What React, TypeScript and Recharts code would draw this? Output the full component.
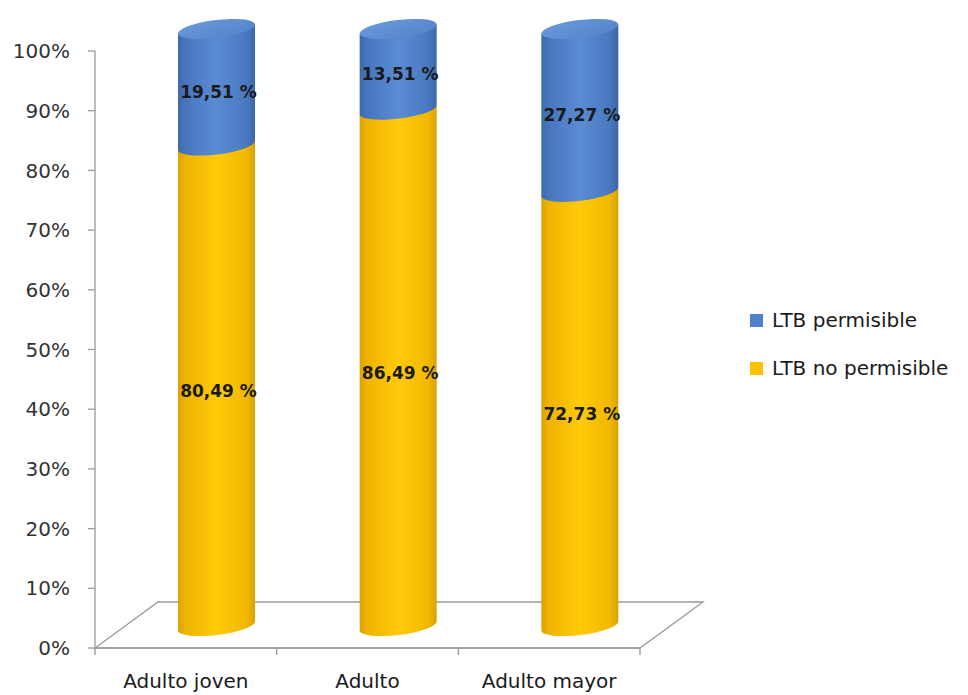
import React from 'react';
import { BarChart, Bar, XAxis, YAxis, LabelList } from 'recharts';

const categories = ['Adulto joven', 'Adulto', 'Adulto mayor'];
const noPermisible = [80.49, 86.49, 72.73];
const permisible = [19.51, 13.51, 27.27];
const yTicks = [0, 10, 20, 30, 40, 50, 60, 70, 80, 90, 100];
const seriesNames = ['LTB permisible', 'LTB no permisible'];
const seriesColors = ['#4F81CF', '#FFC000'];

const data = categories.map((c, i) => ({
  name: c,
  noPermisible: noPermisible[i],
  permisible: permisible[i],
}));

// layout
const W = 968;
const H = 695;
const PLOT_LEFT = 95;
const PLOT_RIGHT = 640;
const PLOT_TOP = 51;
const PLOT_BOTTOM = 648;
const DEPTH_DX = 63;
const DEPTH_DY = -46;
const CYL_DX = 31;
const CYL_DY = -22;
const TILT = 7;
const RY = 9;
const FONT = '"DejaVu Sans", "Open Sans", sans-serif';

const fmt = (v: number) => v.toFixed(2).replace('.', ',') + ' %';

const Cylinder = (props: any) => {
  const { x, y, width, height, index, kind } = props;
  if (height == null || width == null) return null;
  const w = width;
  const x0 = x + CYL_DX;
  const yT = y + CYL_DY;
  const yB = y + height + CYL_DY;
  const t = (TILT * Math.PI) / 180;
  const h = (w / 2) * Math.tan(t);
  const rx = w / 2 / Math.cos(t);
  const gid = `g-${kind}-${index}`;
  const cid = `c-${kind}-${index}`;
  const body = `M${x0},${yT + h} L${x0},${yB + h} A${rx},${RY} ${-TILT} 0 0 ${x0 + w},${yB - h} L${x0 + w},${yT - h} Z`;
  const isBlue = kind === 'blue';
  return (
    <g>
      <defs>
        {isBlue ? (
          <linearGradient id={gid} x1="0" y1="0" x2="1" y2="0">
            <stop offset="0" stopColor="#3D69AB" />
            <stop offset="0.1" stopColor="#4876BE" />
            <stop offset="0.5" stopColor="#5A8CD3" />
            <stop offset="0.88" stopColor="#4A79C1" />
            <stop offset="1" stopColor="#3C67A9" />
          </linearGradient>
        ) : (
          <linearGradient id={gid} x1="0" y1="0" x2="1" y2="0">
            <stop offset="0" stopColor="#DCA200" />
            <stop offset="0.1" stopColor="#F0B400" />
            <stop offset="0.5" stopColor="#FFCA0A" />
            <stop offset="0.88" stopColor="#F3B900" />
            <stop offset="1" stopColor="#DBA200" />
          </linearGradient>
        )}
        <linearGradient id={cid} x1="0" y1="0" x2="1" y2="1">
          <stop offset="0" stopColor="#6B9ADA" />
          <stop offset="1" stopColor="#5283C9" />
        </linearGradient>
      </defs>
      <path d={body} fill={`url(#${gid})`} />
      {isBlue && (
        <ellipse
          cx={x0 + w / 2}
          cy={yT}
          rx={rx}
          ry={RY}
          transform={`rotate(${-TILT} ${x0 + w / 2} ${yT})`}
          fill={`url(#${cid})`}
        />
      )}
    </g>
  );
};

const SegLabel = (props: any) => {
  const { x, y, width, height, value } = props;
  return (
    <text
      x={x + width / 2 + CYL_DX + 2}
      y={y + height / 2 + CYL_DY + 6}
      textAnchor="middle"
      dominantBaseline="middle"
      fontFamily={FONT}
      fontWeight="bold"
      fontSize={17}
      fill="#1a1a1a"
    >
      {fmt(value)}
    </text>
  );
};

const Floor = () => {
  const n = categories.length;
  const bw = (PLOT_RIGHT - PLOT_LEFT) / n;
  const ticks = Array.from({ length: n + 1 }, (_, i) => PLOT_LEFT + i * bw);
  const pts = [
    [PLOT_LEFT, PLOT_BOTTOM],
    [PLOT_RIGHT, PLOT_BOTTOM],
    [PLOT_RIGHT + DEPTH_DX, PLOT_BOTTOM + DEPTH_DY],
    [PLOT_LEFT + DEPTH_DX, PLOT_BOTTOM + DEPTH_DY],
  ];
  return (
    <svg width={W} height={H} style={{ position: 'absolute', left: 0, top: 0 }}>
      <polygon
        points={pts.map((p) => p.join(',')).join(' ')}
        fill="none"
        stroke="#9a9a9a"
        strokeWidth={1.3}
      />
      {ticks.map((tx, i) => (
        <line key={i} x1={tx} y1={PLOT_BOTTOM} x2={tx} y2={PLOT_BOTTOM + 7} stroke="#9a9a9a" strokeWidth={1.3} />
      ))}
    </svg>
  );
};

const LegendBox = () => (
  <div
    style={{
      position: 'absolute',
      left: 750,
      top: 306,
      fontFamily: FONT,
      fontSize: 20,
      color: '#1a1a1a',
    }}
  >
    {seriesNames.map((s, i) => (
      <div key={s} style={{ display: 'flex', alignItems: 'center', height: 28, marginBottom: 20 }}>
        <span
          style={{
            display: 'inline-block',
            width: 13,
            height: 13,
            background: seriesColors[i],
            marginRight: 9,
          }}
        />
        <span>{s}</span>
      </div>
    ))}
  </div>
);

export default function App() {
  return (
    <div style={{ position: 'absolute', left: 0, top: 0, width: W, height: H, background: '#fff' }}>
      <Floor />
      <div style={{ position: 'absolute', left: 0, top: 0 }}>
        <BarChart
          width={W}
          height={H}
          data={data}
          margin={{ top: PLOT_TOP, right: W - PLOT_RIGHT, bottom: 0, left: 0 }}
        >
          <XAxis
            dataKey="name"
            height={H - PLOT_BOTTOM}
            axisLine={{ stroke: '#9a9a9a', strokeWidth: 1.3 }}
            tickLine={false}
            tickSize={8}
            tickMargin={18}
            tick={{ fontFamily: FONT, fontSize: 20, fill: '#1a1a1a' }}
            interval={0}
          />
          <YAxis
            width={PLOT_LEFT}
            domain={[0, 100]}
            ticks={yTicks}
            tickFormatter={(v: number) => `${v}%`}
            axisLine={{ stroke: '#9a9a9a', strokeWidth: 1.3 }}
            tickLine={{ stroke: '#9a9a9a', strokeWidth: 1.3 }}
            tickSize={7}
            tickMargin={18}
            tick={{ fontFamily: FONT, fontSize: 20, fill: '#333' }}
            interval={0}
          />
          <Bar
            dataKey="noPermisible"
            stackId="a"
            barSize={77}
            fill={seriesColors[1]}
            isAnimationActive={false}
            shape={(p: any) => <Cylinder {...p} kind="yellow" />}
          >
            <LabelList dataKey="noPermisible" content={SegLabel} />
          </Bar>
          <Bar
            dataKey="permisible"
            stackId="a"
            barSize={77}
            fill={seriesColors[0]}
            isAnimationActive={false}
            shape={(p: any) => <Cylinder {...p} kind="blue" />}
          >
            <LabelList dataKey="permisible" content={SegLabel} />
          </Bar>
        </BarChart>
      </div>
      <LegendBox />
    </div>
  );
}
